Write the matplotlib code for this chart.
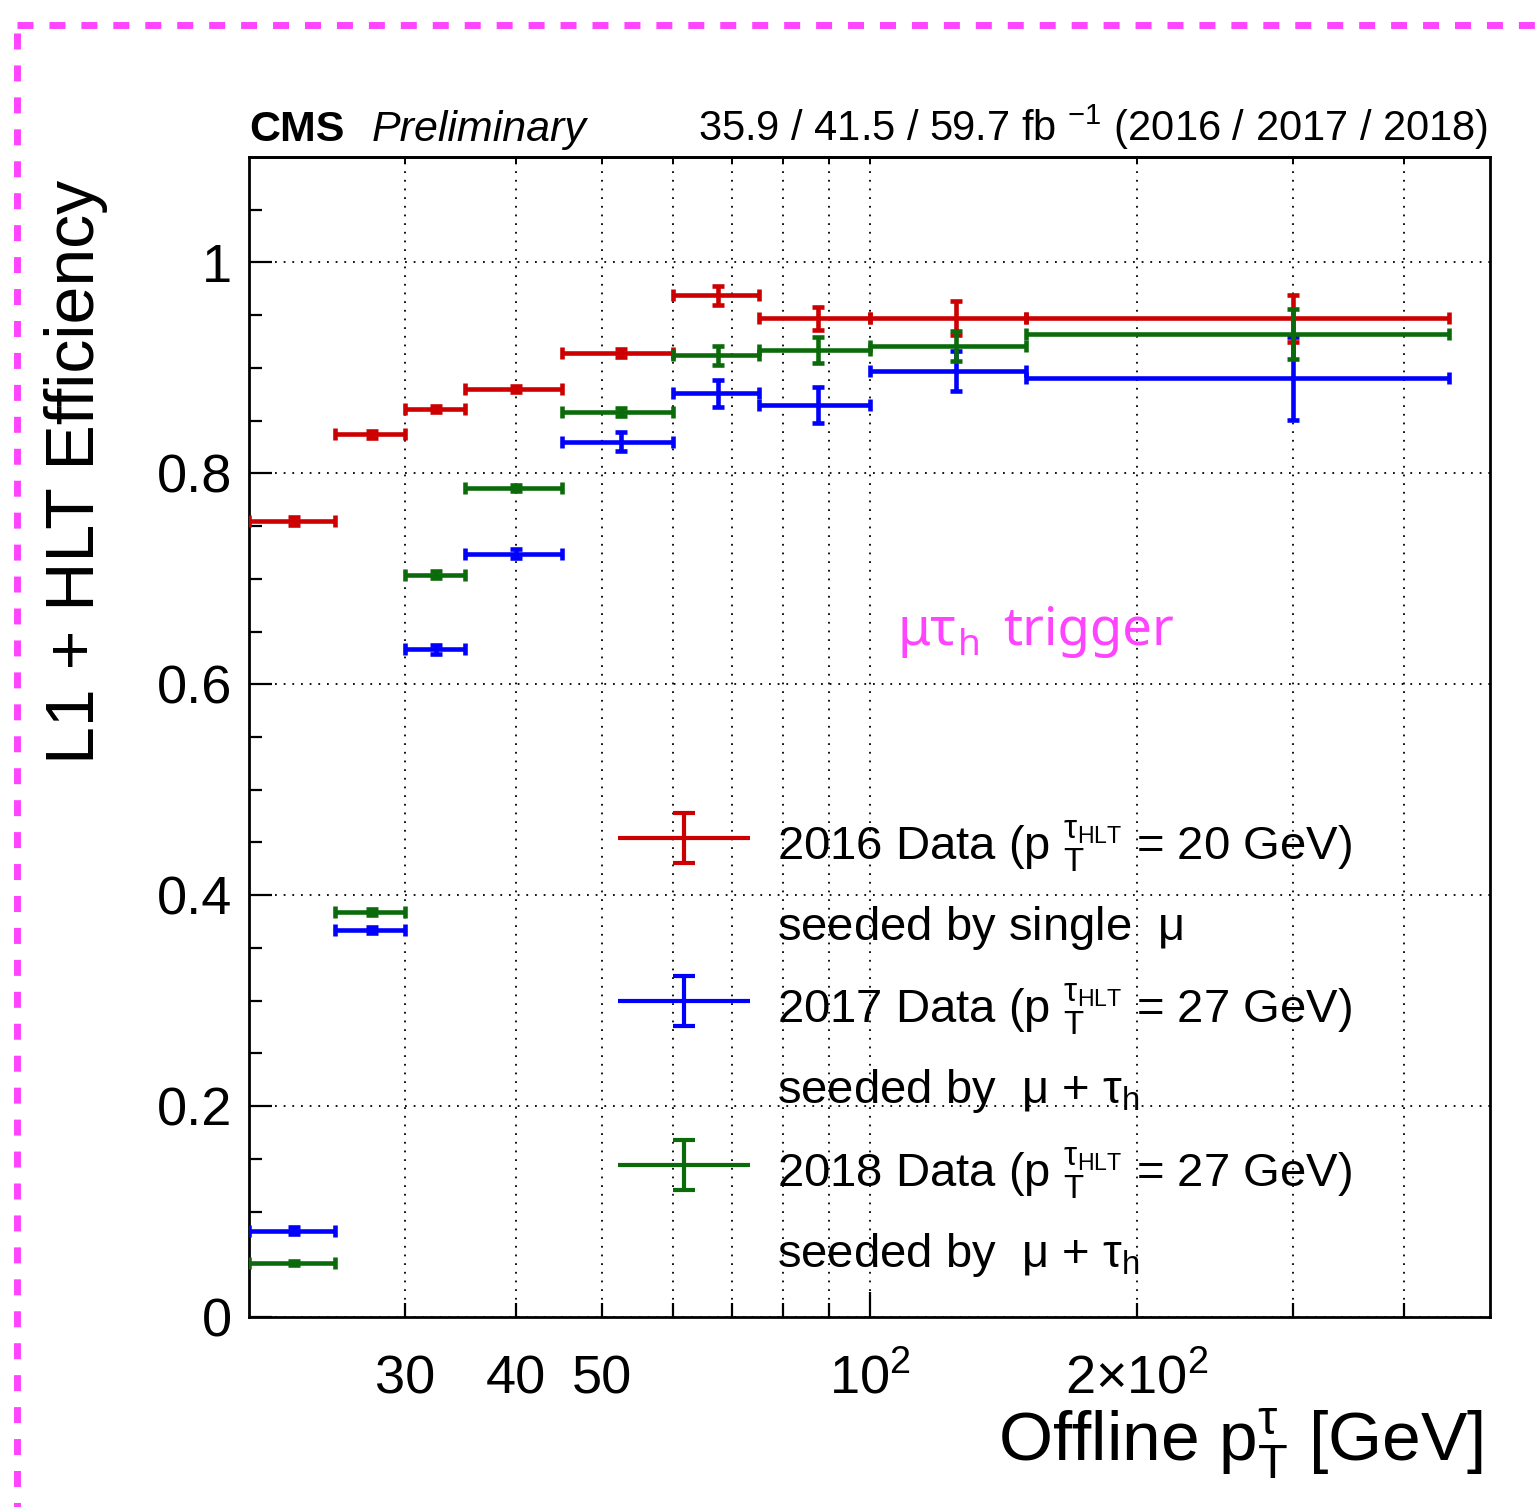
import matplotlib
matplotlib.use("Agg")
import matplotlib.pyplot as plt
import numpy as np
from matplotlib import font_manager
from matplotlib.lines import Line2D
from matplotlib.ticker import FixedLocator, NullFormatter

plt.rcParams["font.family"] = ["Liberation Sans", "DejaVu Sans"]
plt.rcParams["mathtext.fontset"] = "custom"
plt.rcParams["mathtext.rm"] = "Liberation Sans"
plt.rcParams["mathtext.it"] = "Liberation Sans:italic"
plt.rcParams["mathtext.bf"] = "Liberation Sans:bold"
plt.rcParams["mathtext.default"] = "regular"

# condensed face for the legend/header text if it is available
_installed = {f.name for f in font_manager.fontManager.ttflist}
HAVE_NARROW = "Liberation Sans Narrow" in _installed
NARROW = ["Liberation Sans Narrow", "Liberation Sans", "DejaVu Sans"]

# ---------------------------------------------------------------------------
# Efficiency per offline tau pT bin (GeV)
# ---------------------------------------------------------------------------
pt_edges = [20, 25, 30, 35, 45, 60, 75, 100, 150, 450]

eff_2016 = [0.755, 0.837, 0.861, 0.880, 0.914, 0.969, 0.947, 0.947, 0.947]
err_2016 = [0.004, 0.003, 0.003, 0.003, 0.004, 0.009, 0.011, 0.016, 0.022]

eff_2017 = [0.082, 0.367, 0.633, 0.724, 0.830, 0.876, 0.865, 0.897, 0.890]
err_2017 = [0.003, 0.003, 0.004, 0.004, 0.009, 0.013, 0.017, 0.019, 0.039]

eff_2018 = [0.051, 0.384, 0.704, 0.786, 0.858, 0.912, 0.917, 0.921, 0.932]
err_2018 = [0.002, 0.003, 0.003, 0.003, 0.004, 0.009, 0.012, 0.014, 0.024]

RED, BLUE, GREEN = "#cc0000", "#0000ff", "#0b6b0b"
MAGENTA = "#ff44ff"

# legend rows: (colour, first line, second line)
legend_rows = [
    (RED, r"2016 Data (p $_{\mathrm{T}}^{\mathrm{\tau}_{\mathrm{HLT}}}$ = 20 GeV)",
     r"seeded by single  $\mathrm{\mu}$"),
    (BLUE, r"2017 Data (p $_{\mathrm{T}}^{\mathrm{\tau}_{\mathrm{HLT}}}$ = 27 GeV)",
     r"seeded by  $\mathrm{\mu}$ + $\mathrm{\tau}_{\mathrm{h}}$"),
    (GREEN, r"2018 Data (p $_{\mathrm{T}}^{\mathrm{\tau}_{\mathrm{HLT}}}$ = 27 GeV)",
     r"seeded by  $\mathrm{\mu}$ + $\mathrm{\tau}_{\mathrm{h}}$"),
]

x_labelled = [30, 40, 50, 100, 200]
x_labels = ["30", "40", "50", r"$10^{2}$", r"$2{\times}10^{2}$"]

W, H = 1536, 1507
fig = plt.figure(figsize=(W / 100, H / 100), dpi=100)
ax_l, ax_r, ax_b, ax_t = 249, 1490, 1317, 157
ax = fig.add_axes([ax_l / W, 1 - ax_b / H, (ax_r - ax_l) / W, (ax_b - ax_t) / H])

ax.set_xscale("log")
ax.set_xlim(20, 500)
ax.set_ylim(0, 1.1)

lo = np.array(pt_edges[:-1], dtype=float)
hi = np.array(pt_edges[1:], dtype=float)
mid = (lo + hi) / 2

# draw order: 2017 underneath, then 2016, then 2018 on top
for vals, errs, color in [(eff_2017, err_2017, BLUE),
                          (eff_2016, err_2016, RED),
                          (eff_2018, err_2018, GREEN)]:
    ax.errorbar(mid, vals, xerr=[mid - lo, hi - mid], yerr=errs,
                fmt="none", ecolor=color, elinewidth=3.3,
                capsize=4.3, capthick=3.3, zorder=3)

# ---- axes cosmetics -------------------------------------------------------
for sp in ax.spines.values():
    sp.set_linewidth(2.0)

ax.xaxis.set_major_locator(FixedLocator([100]))
ax.xaxis.set_minor_locator(FixedLocator([30, 40, 50, 60, 70, 80, 90, 200, 300, 400]))
ax.xaxis.set_major_formatter(NullFormatter())
ax.xaxis.set_minor_formatter(NullFormatter())
ax.tick_params(axis="x", which="major", direction="in", length=18, width=1.6,
               bottom=True, top=False)
ax.tick_params(axis="x", which="minor", direction="in", length=10, width=1.6,
               bottom=True, top=False)

ax.set_yticks([0, 0.2, 0.4, 0.6, 0.8, 1.0])
ax.set_yticklabels(["0", "0.2", "0.4", "0.6", "0.8", "1"])
ax.yaxis.set_minor_locator(FixedLocator(np.arange(0.05, 1.1, 0.05)))
ax.tick_params(axis="y", which="major", direction="in", length=16.5, width=1.6,
               labelsize=39, pad=12, right=False)
ax.tick_params(axis="y", which="minor", direction="in", length=9.5, width=1.6,
               right=False)

grid_kw = dict(color="black", linestyle=(0, (1, 3.8)), linewidth=1.3)
ax.xaxis.grid(True, which="both", **grid_kw)
ax.yaxis.grid(True, which="major", **grid_kw)
ax.set_axisbelow(True)

# short ticks along the top edge
top = ax.secondary_xaxis("top")
top.xaxis.set_major_locator(FixedLocator([30, 40, 50, 60, 70, 80, 90, 100, 200, 300, 400]))
top.xaxis.set_minor_locator(FixedLocator([]))
top.xaxis.set_major_formatter(NullFormatter())
top.tick_params(axis="x", which="major", direction="in", length=5, width=1.4)
top.spines["top"].set_linewidth(2.0)

# x tick labels on a common baseline
xlab_y = (ax_b - 1393) / (ax_b - ax_t)
for xv, txt in zip(x_labelled, x_labels):
    ax.text(xv, xlab_y, txt, transform=ax.get_xaxis_transform(),
            ha="center", va="baseline", fontsize=39, clip_on=False)

# ---- axis titles and header ----------------------------------------------
fig.text(76 / W, 1 - 180 / H, "L1 + HLT Efficiency", rotation=90,
         ha="center", va="top", fontsize=49)
fig.text(1483 / W, 1 - 1460 / H,
         r"Offline p$_{\mathrm{T}}^{\mathrm{\tau}}$ [GeV]",
         ha="right", va="baseline", fontsize=50)

fig.text(249 / W, 1 - 141 / H, "CMS", fontweight="bold",
         ha="left", va="baseline", fontsize=31)
fig.text(372 / W, 1 - 141 / H, "Preliminary", fontstyle="italic",
         ha="left", va="baseline", fontsize=31)
hdr_fs = 34 if HAVE_NARROW else 30
fig.text(1488 / W, 1 - 141 / H,
         r"35.9 / 41.5 / 59.7 fb $^{\mathrm{-1}}$ (2016 / 2017 / 2018)",
         ha="right", va="baseline", fontsize=hdr_fs, family=NARROW)

# ---- legend, drawn by hand in axes fraction ------------------------------
def to_ax(px, py):
    return (px - ax_l) / (ax_r - ax_l), (ax_b - py) / (ax_b - ax_t)

leg_fs = 40 if HAVE_NARROW else 34
row_y = [838, 1001, 1165]
for (color, line1, line2), py in zip(legend_rows, row_y):
    x0, y0 = to_ax(618, py)
    x1, _ = to_ax(750, py)
    xc, _ = to_ax(684, py)
    _, yt = to_ax(684, py - 25)
    _, yb = to_ax(684, py + 25)
    cw = 11 / (ax_r - ax_l)
    for xs, ys in [([x0, x1], [y0, y0]), ([xc, xc], [yb, yt]),
                   ([xc - cw, xc + cw], [yt, yt]), ([xc - cw, xc + cw], [yb, yb])]:
        ax.add_line(Line2D(xs, ys, transform=ax.transAxes, color=color,
                           linewidth=3.0, clip_on=False, zorder=4,
                           solid_capstyle="butt"))
    tx, ty1 = to_ax(777, py + 22)
    _, ty2 = to_ax(777, py + 102)
    with plt.rc_context({"mathtext.rm": NARROW[0] if HAVE_NARROW else "Liberation Sans"}):
        ax.text(tx, ty1, line1, transform=ax.transAxes, fontsize=leg_fs,
                ha="left", va="baseline", zorder=5, family=NARROW)
        ax.text(tx, ty2, line2, transform=ax.transAxes, fontsize=leg_fs,
                ha="left", va="baseline", zorder=5, family=NARROW)

# ---- channel tag ----------------------------------------------------------
renderer = fig.canvas.get_renderer()
tag_fs = 38
t1 = fig.text(898 / W, 1 - 645 / H, "μτ", color=MAGENTA, fontsize=tag_fs,
              family=["Noto Sans", "DejaVu Sans"], ha="left", va="baseline")
bb = t1.get_window_extent(renderer)
fig.text((bb.x1 + 1) / W, 1 - 655 / H, "h", color=MAGENTA,
         fontsize=tag_fs * 0.7, family=["Noto Sans", "DejaVu Sans"],
         ha="left", va="baseline")
fig.text(1003 / W, 1 - 645 / H, "trigger", color=MAGENTA, fontsize=tag_fs,
         family=["Noto Sans", "DejaVu Sans"], ha="left", va="baseline")

# ---- dashed frame around the panel ----------------------------------------
dash = dict(color=MAGENTA, linewidth=5, linestyle=(0, (2.3, 2.3)),
            transform=fig.transFigure, solid_capstyle="butt",
            dash_capstyle="butt")
fig.add_artist(Line2D([17 / W, 1.0], [1 - 25 / H, 1 - 25 / H], **dash))
fig.add_artist(Line2D([17 / W, 17 / W], [1 - 33 / H, 0.0], **dash))

fig.savefig("out.png", dpi=100, facecolor="white")
